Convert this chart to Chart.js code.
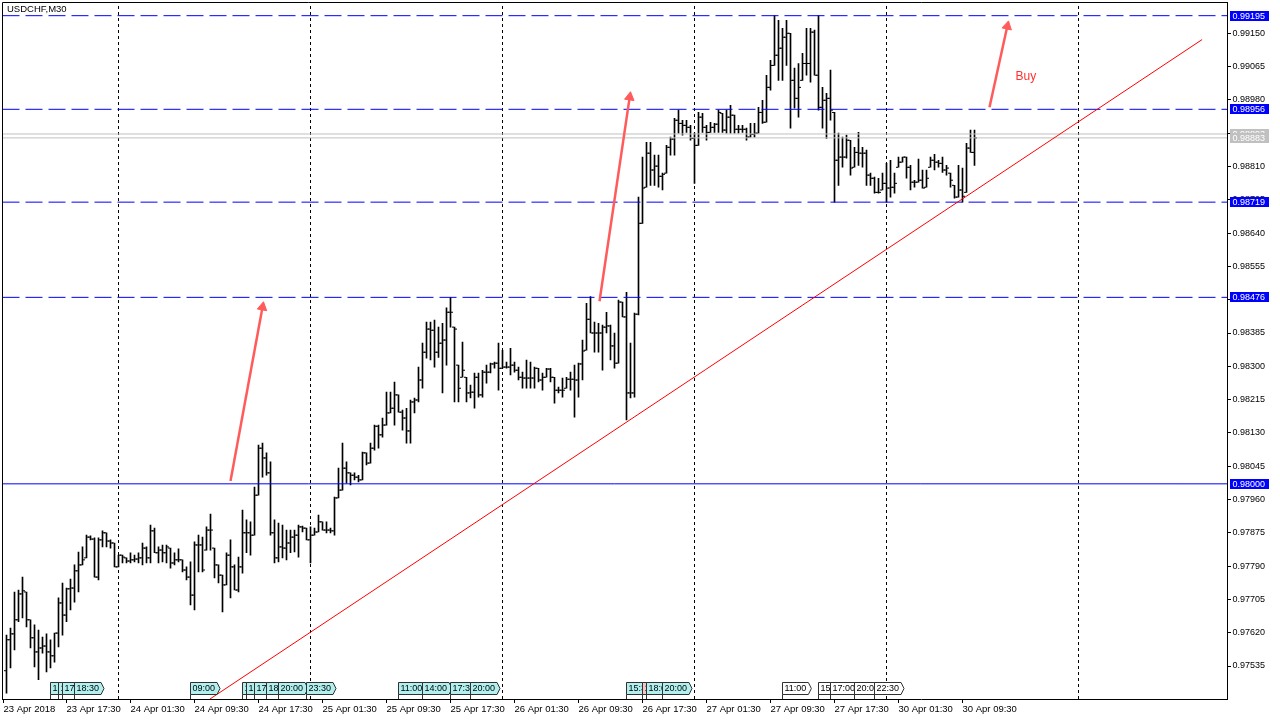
<!DOCTYPE html>
<html><head><meta charset="utf-8">
<script src="https://cdn.jsdelivr.net/npm/chart.js@4"></script>
<style>html,body{margin:0;padding:0;background:#fff;overflow:hidden}</style>
</head><body>
<canvas id="c" width="1280" height="720"></canvas>
<script>
// ---- data (USDCHF M30, bar index 0 = 23 Apr 2018 10:00) ----
const openP = [
0.97523,0.97602,0.97617,0.97653,0.97719,0.97724,0.97653,0.97607,0.97571,0.97581,
0.97586,0.97571,0.97561,0.97619,0.97696,0.97665,0.97732,0.97734,0.97778,0.97793,
0.97811,0.97864,0.97859,0.97762,0.97857,0.97875,0.97854,0.97849,0.97788,0.97818,
0.97811,0.97803,0.97806,0.97808,0.97811,0.97836,0.97811,0.97880,0.97824,0.97831,
0.97824,0.97836,0.97798,0.97806,0.97806,0.97780,0.97762,0.97716,0.97844,0.97844,
0.97831,0.97882,0.97836,0.97793,0.97767,0.97742,0.97818,0.97788,0.97729,0.97788,
0.97875,0.97875,0.97869,0.97971,0.98091,0.98066,0.98028,0.97875,0.97811,0.97839,
0.97836,0.97849,0.97864,0.97869,0.97890,0.97887,0.97857,0.97869,0.97877,0.97903,
0.97882,0.97882,0.97880,0.97964,0.97984,0.98040,0.98028,0.98022,0.98017,0.98010,
0.98079,0.98053,0.98091,0.98147,0.98125,0.98150,0.98181,0.98193,0.98227,0.98183,
0.98168,0.98135,0.98209,0.98214,0.98265,0.98336,0.98395,0.98392,0.98336,0.98359,
0.98367,0.98438,0.98400,0.98303,0.98272,0.98272,0.98232,0.98234,0.98272,0.98227,
0.98285,0.98285,0.98306,0.98308,0.98295,0.98298,0.98298,0.98303,0.98290,0.98272,
0.98270,0.98270,0.98270,0.98295,0.98265,0.98272,0.98293,0.98272,0.98239,0.98239,
0.98244,0.98267,0.98267,0.98265,0.98306,0.98341,0.98420,0.98385,0.98385,0.98385,
0.98400,0.98403,0.98352,0.98308,0.98464,0.98426,0.98232,0.98232,0.98433,0.98665,
0.98757,0.98844,0.98801,0.98811,0.98785,0.98793,0.98859,0.98880,0.98928,0.98920,
0.98915,0.98910,0.98882,0.98864,0.98936,0.98910,0.98897,0.98910,0.98918,0.98946,
0.98903,0.98936,0.98941,0.98905,0.98905,0.98905,0.98885,0.98892,0.98895,0.98948,
0.98923,0.99012,0.99068,0.99094,0.99112,0.99140,0.99150,0.99030,0.98984,0.99030,
0.99073,0.99073,0.99153,0.99043,0.98961,0.98979,0.98984,0.98948,0.98826,0.98834,
0.98834,0.98877,0.98808,0.98846,0.98844,0.98844,0.98788,0.98780,0.98744,0.98750,
0.98767,0.98755,0.98757,0.98808,0.98821,0.98834,0.98808,0.98770,0.98770,0.98775,
0.98757,0.98808,0.98826,0.98821,0.98818,0.98801,0.98793,0.98762,0.98732,0.98750,
0.98744,0.98857,0.98846];
const highP = [
0.97614,0.97632,0.97724,0.97729,0.97762,0.97724,0.97653,0.97640,0.97627,0.97609,
0.97617,0.97602,0.97619,0.97709,0.97747,0.97734,0.97757,0.97793,0.97826,0.97839,
0.97869,0.97867,0.97862,0.97862,0.97880,0.97875,0.97857,0.97849,0.97818,0.97818,
0.97811,0.97824,0.97818,0.97824,0.97849,0.97839,0.97895,0.97887,0.97839,0.97844,
0.97844,0.97836,0.97824,0.97834,0.97806,0.97788,0.97801,0.97852,0.97869,0.97864,
0.97890,0.97923,0.97836,0.97793,0.97767,0.97824,0.97857,0.97793,0.97813,0.97933,
0.97908,0.97903,0.97992,0.98099,0.98104,0.98079,0.98056,0.97908,0.97900,0.97895,
0.97882,0.97882,0.97882,0.97895,0.97892,0.97887,0.97890,0.97887,0.97920,0.97903,
0.97903,0.97887,0.97966,0.98040,0.98104,0.98056,0.98028,0.98028,0.98022,0.98081,
0.98079,0.98104,0.98150,0.98150,0.98168,0.98234,0.98234,0.98260,0.98227,0.98188,
0.98193,0.98214,0.98219,0.98298,0.98359,0.98413,0.98413,0.98418,0.98400,0.98410,
0.98449,0.98476,0.98400,0.98303,0.98362,0.98272,0.98252,0.98283,0.98283,0.98290,
0.98303,0.98308,0.98311,0.98359,0.98341,0.98311,0.98346,0.98311,0.98298,0.98285,
0.98316,0.98311,0.98298,0.98295,0.98283,0.98295,0.98295,0.98272,0.98247,0.98270,
0.98272,0.98285,0.98303,0.98308,0.98367,0.98461,0.98478,0.98413,0.98410,0.98405,
0.98438,0.98405,0.98385,0.98469,0.98464,0.98489,0.98359,0.98436,0.98732,0.98834,
0.98872,0.98872,0.98839,0.98839,0.98793,0.98864,0.98885,0.98933,0.98954,0.98928,
0.98928,0.98915,0.98895,0.98948,0.98946,0.98915,0.98923,0.98920,0.98954,0.98946,
0.98954,0.98966,0.98941,0.98915,0.98915,0.98908,0.98920,0.98920,0.98961,0.98979,
0.99043,0.99081,0.99195,0.99183,0.99163,0.99183,0.99150,0.99061,0.99073,0.99099,
0.99163,0.99163,0.99158,0.99195,0.99012,0.98997,0.99056,0.98948,0.98895,0.98885,
0.98890,0.98877,0.98859,0.98897,0.98859,0.98852,0.98793,0.98783,0.98780,0.98793,
0.98818,0.98826,0.98793,0.98834,0.98834,0.98834,0.98813,0.98775,0.98829,0.98801,
0.98801,0.98834,0.98841,0.98826,0.98834,0.98813,0.98793,0.98762,0.98813,0.98806,
0.98869,0.98903,0.98903];
const lowP = [
0.97466,0.97530,0.97576,0.97648,0.97658,0.97635,0.97581,0.97533,0.97500,0.97568,
0.97520,0.97530,0.97545,0.97584,0.97614,0.97648,0.97678,0.97698,0.97724,0.97793,
0.97811,0.97857,0.97762,0.97755,0.97839,0.97839,0.97836,0.97788,0.97788,0.97798,
0.97798,0.97798,0.97801,0.97798,0.97793,0.97798,0.97798,0.97824,0.97798,0.97801,
0.97798,0.97785,0.97793,0.97801,0.97775,0.97755,0.97691,0.97678,0.97775,0.97775,
0.97831,0.97831,0.97760,0.97747,0.97673,0.97742,0.97709,0.97729,0.97724,0.97772,
0.97824,0.97818,0.97869,0.97971,0.98017,0.98022,0.97869,0.97798,0.97801,0.97811,
0.97806,0.97824,0.97826,0.97813,0.97877,0.97857,0.97798,0.97869,0.97877,0.97882,
0.97875,0.97875,0.97869,0.97964,0.97984,0.98002,0.97997,0.98010,0.98005,0.98010,
0.98048,0.98053,0.98086,0.98091,0.98119,0.98150,0.98181,0.98150,0.98183,0.98137,
0.98104,0.98104,0.98181,0.98209,0.98244,0.98321,0.98316,0.98298,0.98323,0.98232,
0.98303,0.98400,0.98209,0.98209,0.98272,0.98209,0.98219,0.98193,0.98221,0.98221,
0.98257,0.98283,0.98295,0.98239,0.98295,0.98295,0.98278,0.98285,0.98265,0.98244,
0.98244,0.98244,0.98244,0.98260,0.98239,0.98272,0.98260,0.98206,0.98232,0.98221,
0.98244,0.98239,0.98170,0.98221,0.98265,0.98341,0.98385,0.98336,0.98336,0.98290,
0.98385,0.98316,0.98295,0.98308,0.98426,0.98163,0.98219,0.98221,0.98431,0.98665,
0.98757,0.98762,0.98762,0.98757,0.98750,0.98793,0.98839,0.98839,0.98895,0.98890,
0.98897,0.98877,0.98767,0.98864,0.98897,0.98877,0.98897,0.98897,0.98897,0.98897,
0.98895,0.98895,0.98895,0.98895,0.98897,0.98877,0.98885,0.98885,0.98895,0.98920,
0.98923,0.99005,0.99068,0.99030,0.99030,0.99068,0.98908,0.98959,0.98936,0.99030,
0.99043,0.99025,0.99043,0.98954,0.98908,0.98882,0.98928,0.98719,0.98762,0.98808,
0.98831,0.98788,0.98808,0.98813,0.98808,0.98762,0.98762,0.98742,0.98742,0.98750,
0.98719,0.98732,0.98742,0.98808,0.98821,0.98780,0.98750,0.98757,0.98770,0.98755,
0.98757,0.98808,0.98801,0.98808,0.98795,0.98788,0.98757,0.98729,0.98732,0.98719,
0.98744,0.98846,0.98813];
const closeP = [
0.97602,0.97617,0.97653,0.97719,0.97727,0.97653,0.97607,0.97571,0.97581,0.97586,
0.97571,0.97561,0.97619,0.97696,0.97665,0.97732,0.97734,0.97778,0.97793,0.97806,
0.97864,0.97859,0.97762,0.97857,0.97875,0.97854,0.97849,0.97788,0.97818,0.97813,
0.97803,0.97806,0.97808,0.97811,0.97836,0.97811,0.97880,0.97824,0.97831,0.97824,
0.97839,0.97798,0.97806,0.97806,0.97780,0.97762,0.97716,0.97844,0.97844,0.97780,
0.97882,0.97882,0.97793,0.97767,0.97742,0.97818,0.97788,0.97729,0.97788,0.97875,
0.97875,0.97869,0.97971,0.98091,0.98066,0.98028,0.97875,0.97811,0.97839,0.97836,
0.97849,0.97864,0.97869,0.97890,0.97887,0.97857,0.97869,0.97877,0.97903,0.97882,
0.97882,0.97880,0.97964,0.97984,0.98040,0.98028,0.98022,0.98017,0.98010,0.98079,
0.98053,0.98091,0.98147,0.98125,0.98150,0.98181,0.98193,0.98227,0.98183,0.98168,
0.98135,0.98209,0.98214,0.98265,0.98336,0.98395,0.98392,0.98336,0.98359,0.98367,
0.98438,0.98438,0.98395,0.98244,0.98290,0.98232,0.98234,0.98272,0.98227,0.98285,
0.98285,0.98306,0.98308,0.98295,0.98298,0.98298,0.98303,0.98290,0.98272,0.98270,
0.98270,0.98270,0.98295,0.98265,0.98272,0.98293,0.98272,0.98239,0.98239,0.98239,
0.98267,0.98267,0.98265,0.98306,0.98339,0.98420,0.98385,0.98385,0.98385,0.98400,
0.98403,0.98352,0.98308,0.98464,0.98426,0.98232,0.98232,0.98433,0.98665,0.98755,
0.98844,0.98801,0.98811,0.98785,0.98790,0.98859,0.98880,0.98928,0.98920,0.98915,
0.98910,0.98882,0.98864,0.98936,0.98910,0.98897,0.98910,0.98918,0.98948,0.98903,
0.98936,0.98941,0.98905,0.98905,0.98905,0.98885,0.98892,0.98895,0.98948,0.98923,
0.99012,0.99068,0.99094,0.99112,0.99140,0.99150,0.99030,0.98984,0.99012,0.99073,
0.99073,0.99153,0.99043,0.98961,0.98979,0.98984,0.98954,0.98826,0.98834,0.98834,
0.98877,0.98806,0.98846,0.98844,0.98844,0.98788,0.98780,0.98744,0.98744,0.98767,
0.98755,0.98757,0.98767,0.98821,0.98834,0.98808,0.98770,0.98770,0.98775,0.98755,
0.98780,0.98826,0.98821,0.98818,0.98801,0.98806,0.98775,0.98732,0.98750,0.98734,
0.98857,0.98846,0.98883];

const xTickIdx = [-0.75, 15, 31, 47, 63, 79, 95, 111, 127, 143, 159, 175, 191, 207, 223, 239];
const xTickLabels = ["23 Apr 2018","23 Apr 17:30","24 Apr 01:30","24 Apr 09:30","24 Apr 17:30",
  "25 Apr 01:30","25 Apr 09:30","25 Apr 17:30","26 Apr 01:30","26 Apr 09:30","26 Apr 17:30",
  "27 Apr 01:30","27 Apr 09:30","27 Apr 17:30","30 Apr 01:30","30 Apr 09:30"];
const yTickVals = [0.97535,0.97620,0.97705,0.97790,0.97875,0.97960,0.98045,0.98130,0.98215,0.98300,
  0.98385,0.98470,0.98555,0.98640,0.98725,0.98810,0.98895,0.98980,0.99065,0.99150];

const dashedLevels = [0.99195, 0.98956, 0.98719, 0.98476];
const solidLevels = [0.98000];
const priceLines = [0.98893, 0.98883];
const dayLines = [28, 76, 124, 172, 220, 268];
const trendStart = [50.75, 0.97450];
const trendEnd = [298.9, 0.99134];
const arrowFrom = [[56, 0.98007], [148.25, 0.98466], [245.75, 0.98961]];
const arrowTo = [[64.0, 0.98451], [155.8, 0.98987], [250.2, 0.99168]];
const arrowRot = [10.4, 8.4, 12.5];
const buyLabel = {idx: 252.25, price: 0.99038, text: 'Buy'};

const eventIdx  = [11, 13, 14, 17, 46, 59, 60, 62, 65, 68, 75, 98, 104, 111, 116, 155, 159, 160, 164, 194, 203, 206, 212, 217];
const eventText = ["15:30","16:30","17:00","18:30","09:00","15:30","16:00","17:00","18:30","20:00","23:30",
  "11:00","14:00","17:30","20:00","15:30","17:30","18:00","20:00","11:00","15:30","17:00","20:00","22:30"];
const eventKind = ["c","c","c","c","c","c","c","c","c","c","c","c","c","c","c","c","p","c","c","w","w","w","w","w"];

const yMin = 0.974508, yMax = 0.992299, xMin = -1, xMax = 305.125;

// ---- build datasets ----
const FONT = 'Liberation Sans';
Chart.defaults.font.family = FONT;
const datasets = [];
datasets.push({type:'bar', data: highP.map((h,i)=>({x:i, y:[lowP[i], h]})),
  backgroundColor:'#000', borderWidth:0, barThickness:1, order:5});
datasets.push({type:'line', showLine:false, data: openP.map((v,i)=>({x:i-0.375, y:v})),
  pointStyle:'line', pointRadius:1, pointBorderWidth:1, pointBorderColor:'#000', borderColor:'#000', order:4});
datasets.push({type:'line', showLine:false, data: closeP.map((v,i)=>({x:i+0.375, y:v})),
  pointStyle:'line', pointRadius:1, pointBorderWidth:1, pointBorderColor:'#000', borderColor:'#000', order:4});
dayLines.forEach(d => datasets.push({type:'line', data:[{x:d,y:yMin},{x:d,y:yMax}],
  borderColor:'#000', borderWidth:1, borderDash:[3,3], pointRadius:0, order:10}));
dashedLevels.forEach(v => datasets.push({type:'line', data:[{x:xMin,y:v},{x:xMax,y:v}],
  borderColor:'#0000ff', borderWidth:1, borderDash:[17,6], pointRadius:0, order:3}));
solidLevels.forEach(v => datasets.push({type:'line', data:[{x:xMin,y:v},{x:xMax,y:v}],
  borderColor:'#0000ff', borderWidth:1, pointRadius:0, order:3}));
priceLines.forEach(v => datasets.push({type:'line', data:[{x:xMin,y:v},{x:xMax,y:v}],
  borderColor:'#c0c0c0', borderWidth:1, pointRadius:0, order:3}));
datasets.push({type:'line', data:[{x:trendStart[0],y:trendStart[1]},{x:trendEnd[0],y:trendEnd[1]}],
  borderColor:'#ff0000', borderWidth:1, pointRadius:0, order:2});
arrowFrom.forEach((f,k) => datasets.push({type:'line',
  data:[{x:f[0],y:f[1]},{x:arrowTo[k][0],y:arrowTo[k][1]}],
  borderColor:'#ff5b5b', borderWidth:2.5, pointStyle:'triangle', pointRadius:[0,5.5],
  pointRotation:[0, arrowRot[k]], pointBackgroundColor:'#ff5b5b', pointBorderColor:'#ff5b5b', pointBorderWidth:1, order:1}));

const overlay = {
  id:'overlay',
  beforeDraw(chart){ const c=chart.ctx; c.save(); c.fillStyle='#fff'; c.fillRect(0,0,chart.width,chart.height); c.restore(); },
  afterDraw(chart){
    const {ctx, chartArea:a, scales:{x, y}} = chart;
    ctx.save();
    // frame (left & top)
    ctx.strokeStyle='#000'; ctx.lineWidth=1;
    ctx.beginPath(); ctx.moveTo(Math.floor(a.left)+0.5, Math.floor(a.bottom)+0.5);
    ctx.lineTo(Math.floor(a.left)+0.5, Math.floor(a.top)+0.5);
    ctx.lineTo(Math.floor(a.right)+0.5, Math.floor(a.top)+0.5); ctx.stroke();
    // event markers
    ctx.font = '9px ' + FONT; ctx.textBaseline='middle'; ctx.textAlign='left';
    eventIdx.forEach((idx,k) => {
      const x0 = Math.floor(x.getPixelForValue(idx)) + 0.5;
      const t = eventText[k];
      const w = ctx.measureText(t).width + 4;
      const top = a.bottom - 16.5, bot = a.bottom - 4.5, mid = (top+bot)/2;
      const kind = eventKind[k];
      ctx.fillStyle = kind==='w' ? '#ffffff' : (kind==='p' ? '#f4c6c6' : '#b2f0f0');
      ctx.strokeStyle = '#303030';
      ctx.beginPath(); ctx.moveTo(x0, top); ctx.lineTo(x0+w, top); ctx.lineTo(x0+w+3, mid);
      ctx.lineTo(x0+w, bot); ctx.lineTo(x0, bot); ctx.closePath(); ctx.fill(); ctx.stroke();
      ctx.beginPath(); ctx.moveTo(x0, bot); ctx.lineTo(x0, a.bottom); ctx.stroke();
      ctx.fillStyle='#000'; ctx.fillText(t, x0+2, mid+0.5);
    });
    // price tags on right axis
    ctx.font = '9px ' + FONT;
    const tag = (v, bg) => {
      const py = y.getPixelForValue(v);
      ctx.fillStyle = bg; ctx.fillRect(a.right + 3, Math.round(py) - 5, 39, 10);
      ctx.fillStyle = '#fff'; ctx.fillText(v.toFixed(5), a.right + 5.5, Math.round(py) + 0.5);
    };
    priceLines.forEach(v => tag(v, '#c0c0c0'));
    dashedLevels.forEach(v => tag(v, '#0000ff'));
    solidLevels.forEach(v => tag(v, '#0000ff'));
    // symbol caption
    ctx.fillStyle='#000'; ctx.font='9.5px ' + FONT; ctx.textBaseline='top';
    ctx.fillText('USDCHF,M30', a.left + 4.5, a.top + 3);
    // Buy label
    ctx.fillStyle='#ff3030'; ctx.font='12px ' + FONT; ctx.textBaseline='middle';
    ctx.fillText(buyLabel.text, x.getPixelForValue(buyLabel.idx), y.getPixelForValue(buyLabel.price));
    ctx.restore();
  }
};

new Chart(document.getElementById('c'), {
  type:'bar',
  data:{datasets},
  plugins:[overlay],
  options:{
    responsive:false, animation:false, events:[],
    layout:{autoPadding:false, padding:{left:2.5, top:2, right:0, bottom:0}},
    plugins:{legend:{display:false}, tooltip:{enabled:false}},
    scales:{
      x:{type:'linear', min:xMin, max:xMax, offset:false,
        afterBuildTicks(s){ s.ticks = xTickIdx.map(v=>({value:v})); },
        afterFit(s){ s.height = 21; s.paddingLeft = 0; s.paddingRight = 0; },
        ticks:{autoSkip:false, maxRotation:0, minRotation:0, align:'start', padding:1, color:'#000',
          font:{size:9.5, family:FONT}, callback:(v,i)=>xTickLabels[i]},
        grid:{drawOnChartArea:false, drawTicks:true, tickLength:4, color:'#000', offset:false},
        border:{display:true, color:'#000'}},
      y:{type:'linear', position:'right', min:yMin, max:yMax,
        afterBuildTicks(s){ s.ticks = yTickVals.map(v=>({value:v})); },
        afterFit(s){ s.width = 53; s.paddingTop = 0; s.paddingBottom = 0; },
        ticks:{padding:1.5, color:'#000', font:{size:9, family:FONT}, callback:(v)=>Number(v).toFixed(5)},
        grid:{drawOnChartArea:false, drawTicks:true, tickLength:4, color:'#000'},
        border:{display:true, color:'#000'}}
    }
  }
});
</script>
</body></html>
